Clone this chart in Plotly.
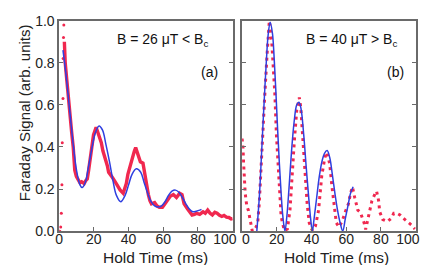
import plotly.graph_objects as go

# ---------------- data ----------------
# Panel (a): B = 26 uT < Bc
a_rise_x = [0.4, 0.9, 1.25, 1.6, 1.8, 2.2, 2.3, 2.5, 2.7]
a_rise_y = [0.0, 0.02, 0.085, 0.22, 0.42, 0.63, 0.82, 0.92, 0.98]

a_red_x = [3.0, 3.5, 4.5, 5.4, 6.3, 7.2, 8.1, 9.0, 9.9, 11, 12, 13, 14.4, 15.3, 16.2, 17, 18, 19,
           19.8, 21.3, 22.3, 23.4, 24.3, 25.2, 26, 27, 27.8, 28.5, 29.5, 30.6, 32.4, 33.8, 35.1,
           36.9, 37.8, 38.7, 39.6, 40.5, 41.4, 42.3, 43.3, 44.1, 45.4, 46.8, 48.3, 49.5, 50.5,
           51.4, 52.3, 53.2, 55, 56.4, 57.7, 59.5, 61, 62.2, 64, 65.8, 66.7, 67.6, 68.5, 69.4,
           70.8, 72, 73.9, 75.2, 76.6, 78, 79.3, 81, 82.9, 84.2, 85.6, 87, 88.3, 89.7, 91, 92.4,
           93.7, 95, 96.4, 97.8, 99.1, 100]
a_red_y = [0.90, 0.80, 0.71, 0.62, 0.55, 0.47, 0.40, 0.29, 0.26, 0.24, 0.23, 0.235, 0.226, 0.24,
           0.248, 0.29, 0.35, 0.41, 0.457, 0.494, 0.47, 0.45, 0.42, 0.382, 0.36, 0.345, 0.31,
           0.28, 0.27, 0.256, 0.233, 0.21, 0.196, 0.18, 0.20, 0.226, 0.27, 0.30, 0.33, 0.35,
           0.38, 0.397, 0.36, 0.33, 0.323, 0.263, 0.21, 0.174, 0.145, 0.13, 0.136, 0.12, 0.114,
           0.114, 0.13, 0.144, 0.166, 0.174, 0.165, 0.16, 0.17, 0.18, 0.174, 0.13, 0.107, 0.09,
           0.077, 0.08, 0.085, 0.08, 0.092, 0.085, 0.10, 0.085, 0.077, 0.09, 0.085, 0.075, 0.07,
           0.075, 0.067, 0.065, 0.058, 0.06]

a_fit_x = [2.2, 4, 6, 8, 10, 12, 13.2, 15, 17, 19, 21, 23, 25, 27, 29, 31, 33, 35.5, 38, 40, 42,
           44.5, 47, 49, 51, 53, 55, 57, 59, 61, 63, 65, 67, 69, 71, 73, 75, 77, 79, 81, 82]
a_fit_y = [0.86, 0.74, 0.58, 0.42, 0.29, 0.22, 0.207, 0.23, 0.31, 0.40, 0.47, 0.50, 0.48, 0.41,
           0.33, 0.24, 0.17, 0.14, 0.17, 0.22, 0.27, 0.296, 0.28, 0.23, 0.18, 0.14, 0.12, 0.115,
           0.12, 0.14, 0.17, 0.19, 0.195, 0.185, 0.16, 0.13, 0.105, 0.092, 0.095, 0.10, 0.104]

# Panel (b): B = 40 uT > Bc
b_red_x = [0, 0.5, 0.9, 1.8, 2.7, 3.6, 4.5, 5.4, 5.9, 7.2, 8.1, 9.0, 9.9, 10.8, 11.7, 13.1, 14.4,
           15.7, 17.1, 18, 18.9, 19.8, 20.7, 21.6, 22.5, 24.3, 26.1, 27.6, 28.8, 30.1, 31.5, 33,
           33.8, 34.8, 36, 37.5, 38.7, 40.5, 42.3, 44.1, 45.9, 47.7, 48.8, 50.5, 51.7, 53.2, 54.3,
           55.9, 57.7, 59.5, 61.3, 62.5, 63.6, 64.9, 66.7, 68.1, 70.3, 71.2, 73, 74.8, 76.6, 77.5,
           78.7, 79.3, 81.1, 83.8, 86.1, 87.4, 89.2, 91, 92.8, 95.5, 98.2, 99.6]
b_red_y = [0.44, 0.40, 0.32, 0.18, 0.12, 0.10, 0.06, 0.03, 0.0, 0.01, 0.02, 0.04, 0.13, 0.278,
           0.457, 0.65, 0.84, 1.0, 0.90, 0.776, 0.65, 0.457, 0.308, 0.16, 0.07, 0.003, 0.01, 0.10,
           0.278, 0.427, 0.576, 0.635, 0.59, 0.457, 0.308, 0.13, 0.04, 0.003, 0.025, 0.10, 0.263,
           0.35, 0.375, 0.32, 0.219, 0.10, 0.04, 0.02, 0.048, 0.092, 0.13, 0.18, 0.21, 0.16, 0.10,
           0.09, 0.04, 0.008, 0.07, 0.144, 0.177, 0.19, 0.144, 0.092, 0.055, 0.046, 0.062, 0.085,
           0.085, 0.077, 0.062, 0.045, 0.025, 0.01]

b_fit_x = [8.5, 10, 11, 12, 13, 14, 15, 16.2, 17.5, 18.5, 19.5, 20.5, 21.5, 22.5, 23.5, 24.7,
           25.8, 27, 28.5, 30, 31.5, 32.8, 34, 35.5, 37, 38.5, 39.5, 40.5, 41.5, 43, 44.5, 46,
           47.5, 49, 50.5, 52, 53.5, 55, 56.5, 58, 59.5, 61, 62.5, 64]
b_fit_y = [0.0, 0.17, 0.33, 0.50, 0.66, 0.81, 0.93, 0.993, 0.94, 0.82, 0.66, 0.48, 0.32, 0.18,
           0.07, 0.0, 0.07, 0.20, 0.38, 0.52, 0.60, 0.613, 0.58, 0.46, 0.30, 0.15, 0.06, 0.0,
           0.06, 0.16, 0.26, 0.33, 0.37, 0.383, 0.35, 0.27, 0.18, 0.10, 0.04, 0.0, 0.06, 0.12,
           0.18, 0.211]

NB = "\u00a0"
x_ticks = [0, 20, 40, 60, 80, 100]
x_tick_text_a = ["0", "20", "40", "60", "80", "100" + NB * 4]
x_tick_text_b = [NB * 2 + "0", "20", "40", "60", "80", "100" + NB * 4]
y_ticks = [0.0, 0.2, 0.4, 0.6, 0.8, 1.0]
y_tick_text = ["0.0", "0.2", "0.4", "0.6", "0.8", "1.0"]

RED = "#f0284f"
BLUE = "#2f3fe0"
AX = "#6a6a6a"
FONT = "Arial, Liberation Sans, sans-serif"

W, H = 436, 265

fig = go.Figure()

# panel a
fig.add_trace(go.Scatter(x=a_rise_x, y=a_rise_y, mode="markers",
                         marker=dict(color=RED, size=3), xaxis="x", yaxis="y", showlegend=False))
fig.add_trace(go.Scatter(x=a_red_x, y=a_red_y, mode="lines",
                         line=dict(color=RED, width=3.4), xaxis="x", yaxis="y", showlegend=False))
fig.add_trace(go.Scatter(x=a_fit_x, y=a_fit_y, mode="lines", line_shape="spline",
                         line=dict(color=BLUE, width=1.5), xaxis="x", yaxis="y", showlegend=False))
# panel b
fig.add_trace(go.Scatter(x=b_red_x, y=b_red_y, mode="lines",
                         line=dict(color=RED, width=3, dash="3px,4px"),
                         xaxis="x2", yaxis="y2", showlegend=False))
fig.add_trace(go.Scatter(x=b_fit_x, y=b_fit_y, mode="lines", line_shape="spline",
                         line=dict(color=BLUE, width=1.5), xaxis="x2", yaxis="y2", showlegend=False))

def px_x(p):
    return p / W

def px_y(p):
    return 1 - p / H

common_x = dict(range=[0, 100], tickvals=x_ticks, ticks="inside", ticklen=4, tickcolor=AX,
                showline=True, linecolor=AX, linewidth=1.5, mirror=True, showgrid=False,
                zeroline=False, ticklabeloverflow="allow", ticklabelstandoff=-6,
                tickfont=dict(size=14, color="#222", family=FONT))
common_y = dict(range=[0, 1], tickvals=y_ticks, ticks="inside", ticklen=4, tickcolor=AX,
                showline=True, linecolor=AX, linewidth=1.5, mirror="ticks", showgrid=False,
                zeroline=False, ticklabeloverflow="allow",
                tickfont=dict(size=14, color="#222", family=FONT))

fig.update_layout(
    width=W, height=H,
    margin=dict(l=0, r=0, t=0, b=0),
    paper_bgcolor="white", plot_bgcolor="white",
    font=dict(family=FONT, color="#222"),
    xaxis=dict(domain=[px_x(46), px_x(231)], anchor="y", ticktext=x_tick_text_a, **common_x),
    yaxis=dict(domain=[px_y(229), px_y(5)], anchor="x", ticktext=y_tick_text, **common_y),
    xaxis2=dict(domain=[px_x(241), px_x(426)], anchor="y2", ticktext=x_tick_text_b, **common_x),
    yaxis2=dict(domain=[px_y(229), px_y(5)], anchor="x2", showticklabels=False, **common_y),
)

ann_font = dict(size=14, color="#111", family=FONT)
fig.add_annotation(text="B = 26 μT < B<sub>c</sub>", x=59.5, y=0.91, xref="x", yref="y",
                   showarrow=False, font=ann_font)
fig.add_annotation(text="(a)", x=86.5, y=0.754, xref="x", yref="y", showarrow=False, font=ann_font)
fig.add_annotation(text="B = 40 μT > B<sub>c</sub>", x=63, y=0.91, xref="x2", yref="y2",
                   showarrow=False, font=ann_font)
fig.add_annotation(text="(b)", x=88.4, y=0.754, xref="x2", yref="y2", showarrow=False, font=ann_font)

title_font = dict(size=15.5, color="#222", family=FONT)
fig.add_annotation(text="Hold Time (ms)", x=px_x(148.5), y=px_y(256.5), xref="paper", yref="paper",
                   showarrow=False, font=title_font, xanchor="center", yanchor="middle")
fig.add_annotation(text="Hold Time (ms)", x=px_x(341.5), y=px_y(256.5), xref="paper", yref="paper",
                   showarrow=False, font=title_font, xanchor="center", yanchor="middle")
fig.add_annotation(text="Faraday Signal (arb. units)", x=px_x(9), y=px_y(103), xref="paper",
                   yref="paper", showarrow=False, textangle=-90,
                   font=dict(size=15, color="#222", family=FONT), xanchor="center", yanchor="middle")

fig.write_html("out.html")
